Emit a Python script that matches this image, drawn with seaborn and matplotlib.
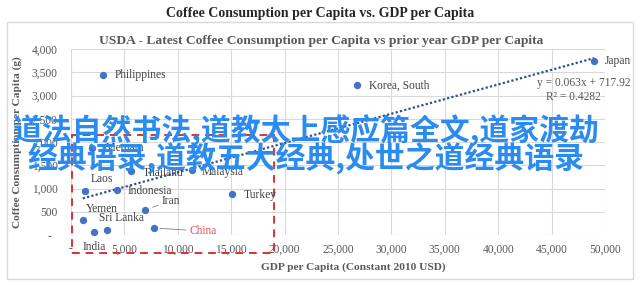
import matplotlib
matplotlib.use("Agg")
import matplotlib.pyplot as plt
import seaborn as sns
import pandas as pd
import numpy as np
from matplotlib.patches import Rectangle
from matplotlib.ticker import FuncFormatter

# ---- data ----
countries = ["Philippines", "Korea, South", "Japan", "Vietnam", "Thailand", "Malaysia",
             "Laos", "Indonesia", "Iran", "Turkey", "Yemen", "India", "Sri Lanka", "China"]
gdp = [3000, 26800, 49000, 2000, 5600, 11300, 1300, 4300, 6900, 15100, 1100, 2150, 3400, 7800]
coffee = [3440, 3220, 3750, 1870, 1380, 1400, 950, 970, 540, 880, 320, 65, 110, 150]
slope = 0.063
intercept = 717.92
r2 = 0.4282
x_ticks = [0, 5000, 10000, 15000, 20000, 25000, 30000, 35000, 40000, 45000, 50000]
y_ticks = [0, 500, 1000, 1500, 2000, 2500, 3000, 3500, 4000]
title = "Coffee Consumption per Capita vs. GDP per Capita"
subtitle = "USDA - Latest Coffee Consumption per Capita vs prior year GDP per Capita"
xlabel = "GDP per Capita (Constant 2010 USD)"
ylabel = "Coffee Consumption per Capita (g)"
overlay1 = "道法自然书法,道教太上感应篇全文,道家渡劫"
overlay2 = "经典语录,道教五大经典,处世之道经典语录"

df = pd.DataFrame({"country": countries, "gdp": gdp, "coffee": coffee})

sns.set_theme(style="white")
plt.rcParams["font.family"] = ["Liberation Serif", "DejaVu Serif"]

fig = plt.figure(figsize=(6.4, 2.85), dpi=100)
fig.patch.set_facecolor("white")

# chart box
fig.add_artist(Rectangle((7/640, 1-279/285), 626/640, 257/285, transform=fig.transFigure,
                         fill=False, edgecolor="#d9d9d9", lw=1.0))

ax = fig.add_axes([71/640, 1-235/285, 534/640, 186/285])
ax.set_xlim(0, 50000)
ax.set_ylim(0, 4000)
ax.set_xticks(x_ticks)
ax.set_yticks(y_ticks)
ax.grid(True, color="#d9d9d9", lw=0.8)
ax.set_axisbelow(True)
for s in ax.spines.values():
    s.set_visible(False)
ax.tick_params(length=0, labelsize=8.3, labelcolor="#595959")
ax.tick_params(axis="y", pad=9.5)
ax.tick_params(axis="x", pad=6)
ax.xaxis.set_major_formatter(FuncFormatter(lambda v, p: "-" if v == 0 else f"{int(v):,}"))
ax.yaxis.set_major_formatter(FuncFormatter(lambda v, p: "-  " if v == 0 else f"{int(v):,}"))

# trend line
xs = np.array([min(gdp), max(gdp)])
tl = pd.DataFrame({"x": xs, "y": slope * xs + intercept})
sns.lineplot(data=tl, x="x", y="y", ax=ax, color="#2f4f8f", lw=1.6, linestyle=(0, (1, 1)))

sns.scatterplot(data=df, x="gdp", y="coffee", ax=ax, color="#4472c4", s=28,
                edgecolor="#4472c4", linewidth=0, zorder=5)
ax.set_xlabel("")
ax.set_ylabel("")

# label offsets in pixels (dx, dy up), alignment
offs = {
    "Philippines": (12, 0, "left"), "Korea, South": (12, 0, "left"), "Japan": (10, 0, "left"),
    "Vietnam": (14, 0, "left"), "Thailand": (12, -2, "left"), "Malaysia": (10, -2, "left"),
    "Laos": (17, 12, "center"), "Indonesia": (11, -1, "left"), "Iran": (17, 9, "left"),
    "Turkey": (11, -1, "left"), "Yemen": (19, 11, "center"), "India": (0, -15, "center"),
    "Sri Lanka": (14, 12, "center"), "China": (35, -3, "left"),
}
for c, x, y in zip(countries, gdp, coffee):
    dx, dy, ha = offs[c]
    col = "#e05050" if c == "China" else "#404040"
    kw = {}
    if c in ("China", "Iran"):
        kw["arrowprops"] = dict(arrowstyle="-", color="#808080", lw=0.6,
                                shrinkA=0, shrinkB=4 if c == "China" else 6)
    ax.annotate(c, (x, y), xytext=(dx * 0.72, dy * 0.72), textcoords="offset points",
                ha=ha, va="center", fontsize=8.3, color=col, annotation_clip=False,
                zorder=6, **kw)

# equation
fig.text(584/640, 1-83/285, f"y = {slope}x + {intercept}", ha="center", va="center",
         fontsize=8.3, color="#595959")
fig.text(573/640, 1-97/285, f"R² = {r2}", ha="center", va="center",
         fontsize=8.3, color="#595959")

# red dashed box
ax.add_patch(Rectangle((1/534, -18/186), 202/534, 118/186, transform=ax.transAxes,
                       fill=False, edgecolor="#e03030", lw=1.4, linestyle=(0, (4, 3)),
                       clip_on=False, zorder=4))

# titles and axis labels
fig.text(0.5, 1-14/285, title, ha="center", va="center", fontsize=10,
         fontweight="bold", color="#262626")
fig.text(321/640, 1-41/285, subtitle, ha="center", va="center", fontsize=9.7,
         fontweight="bold", color="#595959")
fig.text(353/640, 1-267/285, xlabel, ha="center", va="center", fontsize=8.2,
         fontweight="bold", color="#595959")
fig.text(17/640, 1-142/285, ylabel, ha="center", va="center", rotation=90, fontsize=8.2,
         fontweight="bold", color="#595959")

# overlay text
for txt, yy in ((overlay1, 131), (overlay2, 159)):
    fig.text(306/640, 1-yy/285, txt, ha="center", va="center", fontsize=21.5,
             fontweight="bold", color="#2a8cf0",
             family=["Noto Sans CJK SC", "DejaVu Sans"], zorder=20)

fig.savefig("out.png", dpi=100, facecolor="white")
